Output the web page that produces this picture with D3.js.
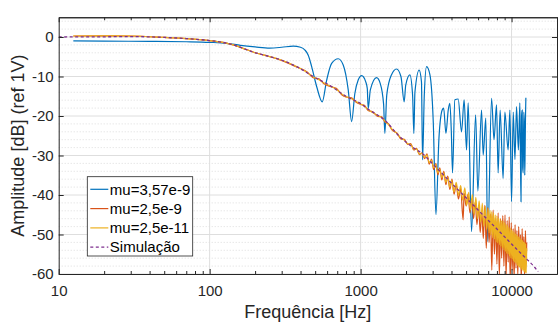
<!DOCTYPE html>
<html>
<head>
<meta charset="utf-8">
<script src="https://cdn.jsdelivr.net/npm/d3@7"></script>
<style>
  body { margin: 0; background: #fff; }
  svg { display: block; font-family: "Liberation Sans", Arial, Helvetica, sans-serif; }
</style>
</head>
<body>
<svg id="chart" width="558" height="322"></svg>
<script>
// tick values / labels
const xTicks = [10, 100, 1000, 10000];
const xMinorTicks = [20, 30, 40, 50, 60, 70, 80, 90, 200, 300, 400, 500, 600, 700, 800, 900,
  2000, 3000, 4000, 5000, 6000, 7000, 8000, 9000, 20000];
const yTicks = [0, -10, -20, -30, -40, -50, -60];
const yMinorGrid = [4, 2, -2, -4, -6, -8, -12, -14, -16, -18, -22, -24, -26, -28, -32, -34, -36, -38,
  -42, -44, -46, -48, -52, -54, -56, -58];
const legendLabels = ["mu=3,57e-9", "mu=2,5e-9", "mu=2,5e-11", "Simulação"];

// [frequency Hz, amplitude dB]
const blueMu357e9 = [[12.5,-1.0],[20,-1.05],[40,-1.1],[70,-1.2],[100,-1.35],[130,-1.6],[160,-2.1],[200,-2.5],
  [250,-2.8],[300,-2.6],[358,-2.3],[400,-2.6],[428,-3.3],[450,-4.6],[474,-7.5],[512,-12.6],[557,-16.4],
  [596,-10.9],[643,-6.7],[711,-5.5],[767,-7.1],[828,-13.4],[872,-21.4],[916,-14.3],[964,-10.9],[1016,-9.8],
  [1080,-11.3],[1107,-13],[1123,-18.1],[1160,-13.4],[1276,-10.3],[1350,-11.8],[1420,-17],[1448,-24.4],
  [1490,-14.7],[1600,-9.6],[1731,-8.1],[1850,-10.0],[1944,-16.4],[1990,-12.2],[2120,-9.6],[2210,-14.7],
  [2253,-24.4],[2290,-14.0],[2443,-8.4],[2530,-11.3],[2574,-31.1],[2640,-15.0],[2735,-7.5],[2880,-9.6],
  [3028,-21.4],[3155,-45.0],[3304,-25.6],[3470,-18.5],[3550,-18.0],[3675,-24.4],[3806,-18.5],[3902,-16.8],
  [3990,-24],[4065,-34.4],[4210,-15.9],[4429,-15.7],[4663,-24.0],[4851,-15.9],[5032,-28.6],[5158,-16.7],
  [5433,-49.3],[5780,-19.7],[5980,-39.0],[6327,-18.5],[6486,-29.9],[6750,-20.5],[6950,-51.8],[7374,-15.5],
  [7650,-26.0],[7950,-17.2],[8150,-34.4],[8400,-18.5],[8790,-35.8],[9030,-19.0],[9490,-28.6],[9750,-18.5],
  [10000,-41.7],[10260,-19.0],[10530,-31.0],[10790,-17.6],[11100,-28.6],[11350,-16.7],[11450,-30.0],
  [11550,-41.7],[11650,-20.0],[11760,-18.5],[11850,-33.0],[11950,-34.4],[12050,-19.0],[12150,-22.3],
  [12230,-35.0],[12300,-28.6],[12370,-20.0],[12440,-15.4]];

const orangeMu25e9 = [[12.5,0.25],[20,0.3],[30,0.25],[50,-0.1],[70,-0.4],[100,-0.9],[120,-1.3],[143,-2.0],
  [165,-2.8],[194,-3.8],[230,-4.6],[292,-5.8],[377,-7.6],[440,-8.8],[485,-10.3],[530,-10.6],[570,-11.8],
  [627,-12.5],[690,-13.0],[750,-14.6],[800,-15.2],[870,-15.4],[940,-16.6],[1005,-17.1],[1060,-17.3],
  [1123,-18.6],[1200,-18.9],[1300,-20.1],[1380,-20.2],[1450,-21.5],[1530,-22.0],[1620,-23.6],[1750,-24.4],
  [1850,-25.8],[1950,-25.9],[2050,-27.2],[2150,-27.0],[2250,-28.6],[2350,-28.2],[2450,-29.8],[2550,-29.3],
  [2650,-30.8],[2750,-29.6],[2850,-32.2],[2950,-30.9],[3050,-33.6],[3150,-32.0],[3250,-34.9],[3350,-33.1],
  [3450,-36.2],[3560,-34.0],[3670,-37.4],[3780,-35.2],[3900,-38.6],[4030,-36.0],[4160,-39.8],[4300,-37.4],
  [4450,-41.0],[4600,-38.3],[4775,-46.3],[4850,-39.5],[5000,-42.8],[5150,-39.8],[5300,-44.5],[5450,-41.0],
  [5600,-46.0],[5750,-41.8],[5900,-47.5],[6050,-42.6],[6200,-49.5],[6350,-44.0],[6500,-51.0],[6650,-42.6],
  [6800,-53.5],[6950,-43.2],[7100,-52.0],[7250,-44.8],[7400,-59.0],[7550,-43.8],[7700,-55.0],[7850,-46.0],
  [8000,-57.5],[8150,-44.5],[8300,-60.5],[8450,-46.0],[8600,-56.0],[8750,-45.2],[8900,-58.0],[9050,-45.0],
  [9200,-61.0],[9350,-46.5],[9500,-57.0],[9650,-45.5],[9800,-62.0],[9950,-47.0],[10100,-59.0],[10250,-48.5],
  [10400,-61.5],[10550,-47.5],[10700,-58.5],[10850,-49.0],[11000,-60.5],[11150,-48.0],[11300,-57.0],
  [11450,-50.0],[11600,-62.0],[11750,-48.5],[11900,-58.0],[12050,-50.5],[12200,-61.0],[12350,-49.0],
  [12500,-57.0],[12600,-52.0]];

const yellowMu25e11 = [[12.5,0.25],[20,0.3],[30,0.25],[50,-0.1],[70,-0.4],[100,-0.9],[120,-1.3],[143,-2.0],
  [165,-2.8],[194,-3.8],[230,-4.6],[292,-5.7],[377,-7.5],[440,-8.9],[485,-10.1],[530,-10.8],[570,-11.6],
  [627,-12.4],[690,-13.2],[750,-14.4],[800,-15.1],[870,-15.6],[940,-16.4],[1005,-17.0],[1060,-17.5],
  [1123,-18.4],[1200,-19.1],[1300,-19.9],[1380,-20.4],[1450,-21.3],[1530,-22.2],[1620,-23.4],[1750,-24.5],
  [1850,-25.6],[1950,-26.1],[2050,-27.0],[2150,-27.2],[2250,-28.4],[2350,-28.4],[2450,-29.6],[2550,-29.5],
  [2650,-30.4],[2750,-29.9],[2850,-31.8],[2950,-31.2],[3050,-33.1],[3150,-32.3],[3250,-34.4],[3350,-33.5],
  [3450,-35.6],[3560,-34.4],[3670,-36.8],[3780,-35.6],[3900,-38.0],[4000,-36.3],[4150,-39.2],[4300,-36.8],
  [4450,-40.1],[4600,-37.6],[4750,-41.3],[4900,-38.2],[5050,-42.6],[5200,-39.3],[5350,-43.8],[5500,-39.9],
  [5650,-44.9],[5800,-40.6],[5950,-46.0],[6100,-41.5],[6250,-46.8],[6400,-42.1],[6550,-47.9],[6700,-42.8],
  [6850,-48.7],[7000,-43.3],[7100,-49.6],[7200,-43.9],[7300,-50.1],[7400,-44.2],[7500,-50.8],[7600,-44.6],
  [7700,-51.2],[7800,-45.0],[7900,-51.9],[8000,-45.3],[8100,-52.1],[8200,-45.8],[8300,-52.6],[8400,-46.1],
  [8500,-53.0],[8600,-46.5],[8700,-53.4],[8800,-46.6],[8900,-53.9],[9000,-47.0],[9100,-54.3],[9200,-47.4],
  [9300,-54.8],[9400,-47.7],[9500,-55.0],[9600,-48.1],[9700,-55.5],[9800,-48.4],[9900,-55.9],[10000,-48.8],
  [10100,-56.2],[10200,-49.0],[10300,-56.7],[10400,-49.4],[10500,-57.0],[10600,-49.8],[10700,-57.3],
  [10800,-50.0],[10900,-57.8],[11000,-50.4],[11100,-58.0],[11200,-50.6],[11300,-58.3],[11400,-51.0],
  [11500,-58.6],[11600,-51.3],[11700,-58.9],[11800,-51.5],[11900,-59.1],[12000,-51.8],[12100,-59.4],
  [12200,-52.0],[12300,-59.6],[12400,-52.3],[12500,-59.8],[12600,-53.5]];

const simulacao = [[10,0],[20,0.05],[30,0.1],[50,-0.1],[70,-0.4],[100,-0.9],[120,-1.3],[143,-2.0],[165,-2.8],
  [194,-3.8],[230,-4.6],[292,-5.7],[377,-7.5],[485,-10.0],[627,-12.3],[800,-15.0],[1005,-16.9],[1123,-18.3],
  [1300,-19.8],[1450,-21.1],[1750,-24.6],[2250,-28.1],[2600,-29.7],[3000,-32.1],[3500,-34.7],[4000,-37.0],
  [5000,-40.7],[6000,-43.8],[7000,-46.4],[8000,-48.6],[9000,-50.6],[10000,-52.4],[11000,-54.0],
  [12500,-56.1],[14000,-58.0],[15000,-59.4]];

const seriesColors = ["#0072BD", "#D95319", "#EDB120", "#7E2F8E"];

const svg = d3.select("#chart");
const plotLeft = 58.7, plotRight = 557, plotTop = 17.25, plotBottom = 274;
const axisColor = "#262626";

const x = d3.scaleLog().domain([10, 20000]).range([plotLeft, plotRight]);
const y = d3.scaleLinear().domain([-60, 5]).range([plotBottom, plotTop]);

// grid
const grid = svg.append("g");
grid.selectAll(".minor").data(yMinorGrid).enter().append("line")
  .attr("x1", plotLeft).attr("x2", plotRight)
  .attr("y1", d => y(d)).attr("y2", d => y(d))
  .attr("stroke", "#cfcfcf").attr("stroke-width", 0.7).attr("stroke-dasharray", "1,2");
grid.selectAll(".major").data(yTicks).enter().append("line")
  .attr("x1", plotLeft).attr("x2", plotRight)
  .attr("y1", d => y(d)).attr("y2", d => y(d))
  .attr("stroke", "#dedede").attr("stroke-width", 1);
grid.selectAll(".vmajor").data(xTicks.slice(1)).enter().append("line")
  .attr("x1", d => x(d)).attr("x2", d => x(d))
  .attr("y1", plotTop).attr("y2", plotBottom)
  .attr("stroke", "#dedede").attr("stroke-width", 1);

// data lines
svg.append("clipPath").attr("id", "plotClip").append("rect")
  .attr("x", plotLeft).attr("y", plotTop)
  .attr("width", plotRight - plotLeft).attr("height", plotBottom - plotTop);

const line = d3.line()
  .x(d => x(d[0]))
  .y(d => y(d[1]))
  .curve(d3.curveMonotoneX);

const series = [blueMu357e9, orangeMu25e9, yellowMu25e11, simulacao];
const plot = svg.append("g").attr("clip-path", "url(#plotClip)");
series.forEach((data, i) => {
  plot.append("path")
    .attr("d", line(data))
    .attr("fill", "none")
    .attr("stroke", seriesColors[i])
    .attr("stroke-width", i === 3 ? 1.3 : 1.2)
    .attr("stroke-dasharray", i === 3 ? "3,2.5" : null);
});

// axes
function styleAxis(g) {
  g.selectAll("path.domain").attr("stroke", axisColor);
  g.selectAll(".tick line").attr("stroke", axisColor);
  g.selectAll(".tick text").attr("fill", axisColor).attr("font-size", 15);
  g.attr("font-family", null).attr("font-size", null);
}
const noLabel = () => "";

svg.append("g").attr("transform", `translate(0,${plotBottom})`)
  .call(d3.axisBottom(x).tickValues(xTicks).tickFormat(d => String(d)).tickSizeInner(-5).tickSizeOuter(0).tickPadding(11))
  .call(styleAxis);
svg.append("g").attr("transform", `translate(0,${plotBottom})`)
  .call(d3.axisBottom(x).tickValues(xMinorTicks).tickFormat(noLabel).tickSizeInner(-3).tickSizeOuter(0))
  .call(styleAxis);
svg.append("g").attr("transform", `translate(0,${plotTop})`)
  .call(d3.axisTop(x).tickValues(xTicks).tickFormat(noLabel).tickSizeInner(-5).tickSizeOuter(0))
  .call(styleAxis);
svg.append("g").attr("transform", `translate(0,${plotTop})`)
  .call(d3.axisTop(x).tickValues(xMinorTicks).tickFormat(noLabel).tickSizeInner(-3).tickSizeOuter(0))
  .call(styleAxis);
svg.append("g").attr("transform", `translate(${plotLeft},0)`)
  .call(d3.axisLeft(y).tickValues(yTicks).tickFormat(d => String(d)).tickSizeInner(-5).tickSizeOuter(0).tickPadding(5))
  .call(styleAxis);
svg.append("g").attr("transform", `translate(${plotRight},0)`)
  .call(d3.axisRight(y).tickValues(yTicks).tickFormat(noLabel).tickSizeInner(-5).tickSizeOuter(0))
  .call(styleAxis);

// axis titles
svg.append("text")
  .attr("x", (plotLeft + plotRight) / 2).attr("y", 317.5)
  .attr("text-anchor", "middle").attr("font-size", 18).attr("fill", axisColor)
  .text("Frequência [Hz]");
svg.append("text")
  .attr("transform", `translate(24,${(plotTop + plotBottom) / 2}) rotate(-90)`)
  .attr("text-anchor", "middle").attr("font-size", 18).attr("fill", axisColor)
  .text("Amplitude [dB] (ref 1V)");

// legend
const legend = svg.append("g").attr("transform", "translate(87.3,176.7)");
legend.append("rect")
  .attr("width", 105.4).attr("height", 79.3)
  .attr("fill", "#fff").attr("stroke", axisColor).attr("stroke-width", 0.8);
const rows = legend.selectAll(".row").data(legendLabels).enter().append("g")
  .attr("transform", (d, i) => `translate(0,${12.6 + i * 19.3})`);
rows.append("line")
  .attr("x1", 3).attr("x2", 21)
  .attr("stroke", (d, i) => seriesColors[i])
  .attr("stroke-width", 1.2)
  .attr("stroke-dasharray", (d, i) => i === 3 ? "3,2.5" : null);
rows.append("text")
  .attr("x", 22.5).attr("dy", "0.35em")
  .attr("font-size", 15).attr("fill", "#000")
  .text(d => d);
</script>
</body>
</html>
